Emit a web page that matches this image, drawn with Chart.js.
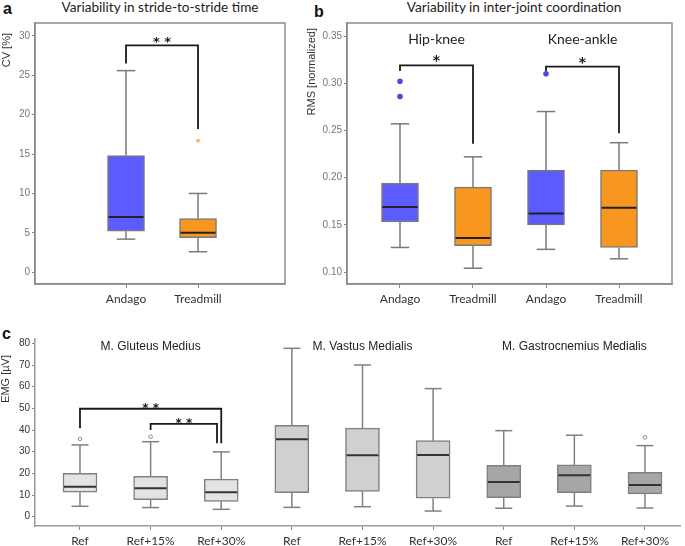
<!DOCTYPE html>
<html>
<head>
<meta charset="utf-8">
<script src="https://cdn.jsdelivr.net/npm/chart.js@4.4.1/dist/chart.umd.min.js"></script>
<style>
body { margin: 0; background: #fff; width: 685px; height: 546px; position: relative; overflow: hidden; }
canvas { position: absolute; left: 0; top: 0; }
.lbl { position: absolute; font: bold 16px "Liberation Sans", Arial, sans-serif; color: #111; }
.ttl { position: absolute; font: 13.6px Lato, "Open Sans", sans-serif; line-height: 16px; color: #222; white-space: nowrap; transform: translateX(-50%); }
</style>
</head>
<body>
<div class="lbl" style="left:3px;top:0px">a</div>
<div class="ttl" style="left:160px;top:-1px">Variability in stride-to-stride time</div>
<div class="lbl" style="left:314px;top:3px">b</div>
<div class="ttl" style="left:514px;top:-1px">Variability in inter-joint coordination</div>
<div class="lbl" style="left:2px;top:325px">c</div>
<canvas id="chartA" width="685" height="546"></canvas>
<canvas id="chartB" width="685" height="546"></canvas>
<canvas id="chartC" width="685" height="546"></canvas>
<script>
// panel a - stride-to-stride time CV
const labelsA = ['Andago', 'Treadmill'];
const minA = [4.2, 2.6];
const q1A  = [5.2, 4.4];
const medA = [7.0, 5.0];
const q3A  = [14.8, 6.8];
const maxA = [25.6, 10.0];
const outA = [[], [16.7]];
const ticksA = [0, 5, 10, 15, 20, 25, 30];
const sigA = [{ from: 0, to: 1, top: 28.8, endFrom: 26.5, endTo: 18.2, text: '**' }];

// panel b - inter-joint coordination RMS
const labelsB = ['Andago', 'Treadmill', 'Andago', 'Treadmill'];
const pairsB = ['Hip-knee', 'Knee-ankle'];
const minB = [0.126, 0.104, 0.124, 0.114];
const q1B  = [0.153, 0.128, 0.150, 0.126];
const medB = [0.169, 0.136, 0.162, 0.168];
const q3B  = [0.194, 0.190, 0.208, 0.208];
const maxB = [0.257, 0.222, 0.270, 0.237];
const outB = [[0.302, 0.286], [], [0.310], []];
const ticksB = [0.10, 0.15, 0.20, 0.25, 0.30, 0.35];
const sigB = [
    { from: 0, to: 1, top: 0.319, endFrom: 0.313, endTo: 0.236, text: '*' },
    { from: 2, to: 3, top: 0.3175, endFrom: 0.313, endTo: 0.247, text: '*' }
];

// panel c - EMG
const labelsC = ['Ref', 'Ref+15%', 'Ref+30%', 'Ref', 'Ref+15%', 'Ref+30%', 'Ref', 'Ref+15%', 'Ref+30%'];
const musclesC = ['M. Gluteus Medius', 'M. Vastus Medialis', 'M. Gastrocnemius Medialis'];
const minC = [4.8, 4.2, 3.4, 4.3, 4.6, 2.6, 3.9, 4.9, 4.0];
const q1C  = [11.3, 7.8, 7.1, 11.1, 11.7, 8.5, 8.8, 11.1, 10.5];
const medC = [13.8, 13.1, 11.3, 35.7, 28.3, 28.5, 16.0, 19.1, 14.6];
const q3C  = [20.0, 18.6, 17.3, 42.2, 40.9, 35.1, 23.7, 23.9, 20.5];
const maxC = [33.1, 34.6, 29.9, 77.7, 70.0, 59.1, 39.7, 37.6, 32.8];
const outC = [[35.9], [36.9], [], [], [], [], [], [], [36.6]];
const ticksC = [0, 10, 20, 30, 40, 50, 60, 70, 80];
const sigC = [
    { from: 0, to: 2, top: 49.8, endFrom: 40.8, endTo: 33.9, text: '**' },
    { from: 1, to: 1.94, top: 42.8, endFrom: 40.0, endTo: 33.9, text: '**' }
];

function boxPlugin(o) {
    return {
        id: 'boxes',
        afterDatasetsDraw(chart) {
            const ctx = chart.ctx, xs = chart.scales.x, ys = chart.scales.y, a = chart.chartArea;
            const py = v => ys.getPixelForValue(v);
            const line = (x1, y1, x2, y2) => { ctx.beginPath(); ctx.moveTo(x1, y1); ctx.lineTo(x2, y2); ctx.stroke(); };
            ctx.save();
            o.labels.forEach((l, i) => {
                const x = xs.getPixelForValue(i), h = o.barWidth / 2;
                ctx.strokeStyle = o.whisker; ctx.lineWidth = 1.5;
                line(x, py(o.max[i]), x, py(o.q3[i]));
                line(x, py(o.q1[i]), x, py(o.min[i]));
                line(x - h / 2, py(o.max[i]), x + h / 2, py(o.max[i]));
                line(x - h / 2, py(o.min[i]), x + h / 2, py(o.min[i]));
                ctx.strokeStyle = o.median; ctx.lineWidth = 2;
                line(x - h + 1, py(o.med[i]), x + h - 1, py(o.med[i]));
                o.out[i].forEach(v => {
                    const y = py(v);
                    if (o.outStyle === 'dot') {
                        ctx.fillStyle = '#4b4bd6';
                        ctx.beginPath(); ctx.arc(x, y, 2.8, 0, Math.PI * 2); ctx.fill();
                    } else if (o.outStyle === 'ring') {
                        ctx.strokeStyle = '#888'; ctx.lineWidth = 1;
                        ctx.beginPath(); ctx.arc(x, y, 1.8, 0, Math.PI * 2); ctx.stroke();
                    } else {
                        ctx.strokeStyle = '#f7a84a'; ctx.lineWidth = 1;
                        line(x - 2, y, x + 2, y); line(x, y - 2, x, y + 2);
                        line(x - 1.5, y - 1.5, x + 1.5, y + 1.5); line(x - 1.5, y + 1.5, x + 1.5, y - 1.5);
                    }
                });
            });
            if (o.frame) {
                ctx.strokeStyle = '#8c8c8c'; ctx.lineWidth = 1.5;
                ctx.strokeRect(a.left, a.top, a.right - a.left, a.bottom - a.top);
            }
            ctx.strokeStyle = '#1a1a1a'; ctx.lineWidth = 1.8;
            ctx.fillStyle = '#1a1a1a';
            ctx.font = o.starFont;
            ctx.textAlign = 'center'; ctx.textBaseline = 'alphabetic';
            o.sig.forEach(s => {
                const x1 = xs.getPixelForValue(s.from), x2 = xs.getPixelForValue(s.to), yt = py(s.top);
                ctx.beginPath();
                ctx.moveTo(x1, py(s.endFrom)); ctx.lineTo(x1, yt); ctx.lineTo(x2, yt); ctx.lineTo(x2, py(s.endTo));
                ctx.stroke();
                ctx.fillText(s.text.split('').join(' '), (x1 + x2) / 2, yt + o.starShift);
            });
            if (o.groups) {
                ctx.font = o.groupFont; ctx.fillStyle = '#222'; ctx.textBaseline = 'middle';
                o.groups.forEach((g, k) => ctx.fillText(g, xs.getPixelForValue(k * o.groupStep + o.groupMid), a.top + o.groupY));
            }
            // y axis title, placed near the top like the original
            ctx.translate(o.yTitleX, a.top + o.yTitleTop);
            ctx.rotate(-Math.PI / 2);
            ctx.font = '11px "Liberation Sans", Arial, sans-serif';
            ctx.fillStyle = '#333'; ctx.textAlign = 'right'; ctx.textBaseline = 'middle';
            ctx.fillText(o.yTitle, 0, 0);
            ctx.restore();
        }
    };
}

function makeBoxChart(id, o) {
    return new Chart(document.getElementById(id), {
        type: 'bar',
        data: {
            datasets: [{
                data: o.labels.map((l, i) => ({ x: i, y: [o.q1[i], o.q3[i]] })),
                backgroundColor: o.colors,
                borderColor: o.boxBorder,
                borderWidth: 1.5,
                borderSkipped: false,
                barThickness: o.barWidth
            }]
        },
        options: {
            responsive: false,
            animation: false,
            layout: { padding: o.padding },
            plugins: { legend: { display: false }, tooltip: { enabled: false } },
            scales: {
                x: {
                    type: 'linear', min: o.xMin, max: o.xMax, offset: false,
                    afterFit: s => { s.height = o.xHeight; },
                    afterBuildTicks: s => { s.ticks = o.labels.map((l, i) => ({ value: i })); },
                    ticks: { callback: v => o.labels[v], font: o.xFont, color: '#333', padding: 4, maxRotation: 0, autoSkip: false },
                    grid: { offset: false, drawOnChartArea: false, tickLength: 4, color: '#888' },
                    border: { color: o.axisColor, width: 1.5 }
                },
                y: {
                    min: o.yMin, max: o.yMax, beginAtZero: false,
                    afterFit: s => { s.width = o.yWidth; },
                    afterBuildTicks: s => { s.ticks = o.yTicks.map(v => ({ value: v })); },
                    ticks: { callback: v => v.toFixed(o.yDec), font: o.yTickFont, color: o.yTickColor, padding: 2 },
                    grid: { drawOnChartArea: false, tickLength: 3, color: '#888' },
                    border: { color: o.axisColor, width: 1.5 }
                }
            }
        },
        plugins: [boxPlugin(o)]
    });
}

const calib = { family: 'Lato, "Open Sans", sans-serif', size: 12 };
const arialTicks = { family: '"Liberation Sans", Arial', size: 10 };

makeBoxChart('chartA', {
    labels: labelsA, min: minA, q1: q1A, med: medA, q3: q3A, max: maxA, out: outA, sig: sigA,
    colors: ['#5b5bff', '#f7971f'], boxBorder: '#7a7a7a', whisker: '#7a7a7a', median: '#222',
    outStyle: 'star', frame: true, barWidth: 37,
    xMin: -1.264, xMax: 2.208, yMin: -1.5, yMax: 31.65, yTicks: ticksA, yDec: 0,
    yTitle: 'CV [%]', yTitleX: 7, yTitleTop: 10,
    padding: { left: 0, top: 23, right: 400, bottom: 232 }, xHeight: 30, yWidth: 35,
    xFont: calib, yTickFont: arialTicks, yTickColor: '#777', axisColor: '#8c8c8c',
    starFont: 'bold 13px "DejaVu Sans"', starShift: 1
});

makeBoxChart('chartB', {
    labels: labelsB, min: minB, q1: q1B, med: medB, q3: q3B, max: maxB, out: outB, sig: sigB,
    colors: ['#5b5bff', '#f7971f', '#5b5bff', '#f7971f'], boxBorder: '#7a7a7a', whisker: '#7a7a7a', median: '#222',
    outStyle: 'dot', frame: true, barWidth: 37,
    xMin: -0.726, xMax: 3.726, yMin: 0.0873, yMax: 0.3638, yTicks: ticksB, yDec: 2,
    yTitle: 'RMS [normalized]', yTitleX: 312, yTitleTop: 5,
    padding: { left: 302, top: 23, right: 13, bottom: 232 }, xHeight: 30, yWidth: 45,
    xFont: calib, yTickFont: arialTicks, yTickColor: '#777', axisColor: '#8c8c8c',
    starFont: 'bold 14px "DejaVu Sans"', starShift: 0,
    groups: pairsB, groupStep: 2, groupMid: 0.5, groupFont: '14px Lato, "Open Sans", sans-serif', groupY: 16
});

makeBoxChart('chartC', {
    labels: labelsC, min: minC, q1: q1C, med: medC, q3: q3C, max: maxC, out: outC, sig: sigC,
    colors: ['#e3e3e3', '#e3e3e3', '#e3e3e3', '#d0d0d0', '#d0d0d0', '#d0d0d0', '#a6a6a6', '#a6a6a6', '#a6a6a6'],
    boxBorder: '#808080', whisker: '#808080', median: '#333',
    outStyle: 'ring', frame: false, barWidth: 34,
    xMin: -0.637, xMax: 8.496, yMin: -4.3, yMax: 82, yTicks: ticksC, yDec: 0,
    yTitle: 'EMG [µV]', yTitleX: 6, yTitleTop: 16,
    padding: { left: 0, top: 339, right: 5, bottom: 0 }, xHeight: 20, yWidth: 35,
    xFont: calib, yTickFont: arialTicks, yTickColor: '#333', axisColor: '#999',
    starFont: 'bold 12px "DejaVu Sans"', starShift: 3,
    groups: musclesC, groupStep: 3, groupMid: 1, groupFont: '12px "Liberation Sans", Arial', groupY: 8
});
</script>
</body>
</html>
